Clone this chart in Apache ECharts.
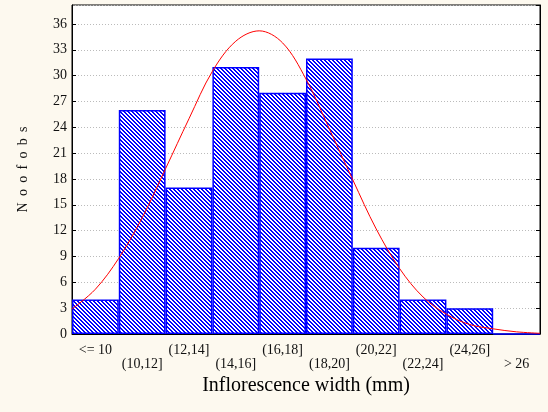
<!DOCTYPE html>
<html><head><meta charset="utf-8">
<script src="https://cdn.jsdelivr.net/npm/echarts@6/dist/echarts.min.js"></script>
<style>html,body{margin:0;padding:0;background:#fdf9ef;}#c{width:548px;height:412px;}</style>
</head><body><div id="c"></div>
<script>
const categories = ['<= 10','(10,12]','(12,14]','(14,16]','(16,18]','(18,20]','(20,22]','(22,24]','(24,26]','> 26'];
const counts = [4, 26, 17, 31, 28, 32, 10, 4, 3, 0];
const curveX = [8,9,10,11,12,13,14,15,16,17,18,19,20,21,22,23,24,25,26,27,28];
const curveY = [2.9,5.2,8.8,13.5,19.2,25.0,30.5,34.0,35.2,33.8,29.6,23.8,17.9,12.2,7.6,4.3,2.3,1.1,0.6,0.25,0.08];
const yTicks = [0,3,6,9,12,15,18,21,24,27,30,33,36];

function hatch(){
  const n=4, cv=document.createElement('canvas'); cv.width=n; cv.height=n;
  const ctx=cv.getContext('2d'); const img=ctx.createImageData(n,n);
  for(let y=0;y<n;y++)for(let x=0;x<n;x++){
    const k=(((x-y)%n)+n)%n; const i=(y*n+x)*4;
    const blue = k<2;
    img.data[i]=blue?0:255; img.data[i+1]=blue?0:255; img.data[i+2]=255; img.data[i+3]=255;
  }
  ctx.putImageData(img,0,0); return cv;
}
const chart = echarts.init(document.getElementById('c'), null, {renderer:'canvas'});
const serif = 'Liberation Serif, Times New Roman, serif';
chart.setOption({
  backgroundColor:'#fdf9ef',
  animation:false,
  grid:{left:72,right:8,top:5,bottom:78,show:true,backgroundColor:'#ffffff',borderColor:'#000',borderWidth:1},
  xAxis:[{
    type:'category', data:categories, boundaryGap:true,
    axisLine:{lineStyle:{color:'#000'}}, axisTick:{show:false},
    axisLabel:{interval:0, fontFamily:serif, fontSize:14, color:'#111', margin:9, lineHeight:14,
      formatter:(v,i)=> i%2===0 ? v+'\n' : '\n'+v},
    name:'Inflorescence width (mm)', nameLocation:'middle', nameGap:42,
    nameTextStyle:{fontFamily:serif, fontSize:20, color:'#000'}
  },{
    type:'value', min:8, max:28, show:false
  }],
  yAxis:[{
    type:'value', min:0, max:38.2, interval:3,
    axisLine:{show:true,lineStyle:{color:'#000'}},
    axisTick:{show:true,inside:true,length:4,lineStyle:{color:'#000'}},
    axisLabel:{fontFamily:serif, fontSize:14, color:'#111', margin:5, showMaxLabel:false,
      formatter:v=> yTicks.indexOf(v)>=0 ? String(v) : ''},
    splitLine:{show:true,lineStyle:{color:'#bbb',type:[1,2],width:1}},
    name:'N\u2009 o\u2009 o\u2009 f\u2009 o\u2009 b\u2009 s', nameLocation:'middle', nameGap:42, nameRotate:90,
    nameTextStyle:{fontFamily:serif, fontSize:14, color:'#111'}
  },{
    type:'value', min:0, max:38.2, interval:3, position:'right',
    axisLine:{show:true,lineStyle:{color:'#000'}},
    axisTick:{show:true,inside:true,length:4,lineStyle:{color:'#000'}},
    axisLabel:{show:false}, splitLine:{show:false}
  }],
  series:[{
    type:'bar', data:counts, xAxisIndex:0, yAxisIndex:0, barWidth:'100%', barCategoryGap:0,
    itemStyle:{color:{image:hatch(),repeat:'repeat'}, borderColor:'#0000ff', borderWidth:1.5}
  },{
    type:'line', xAxisIndex:1, yAxisIndex:0, data:curveX.map((x,i)=>[x,curveY[i]]),
    smooth:0.35, showSymbol:false, lineStyle:{color:'#ff0000',width:1}, z:5
  }]
});
</script></body></html>
